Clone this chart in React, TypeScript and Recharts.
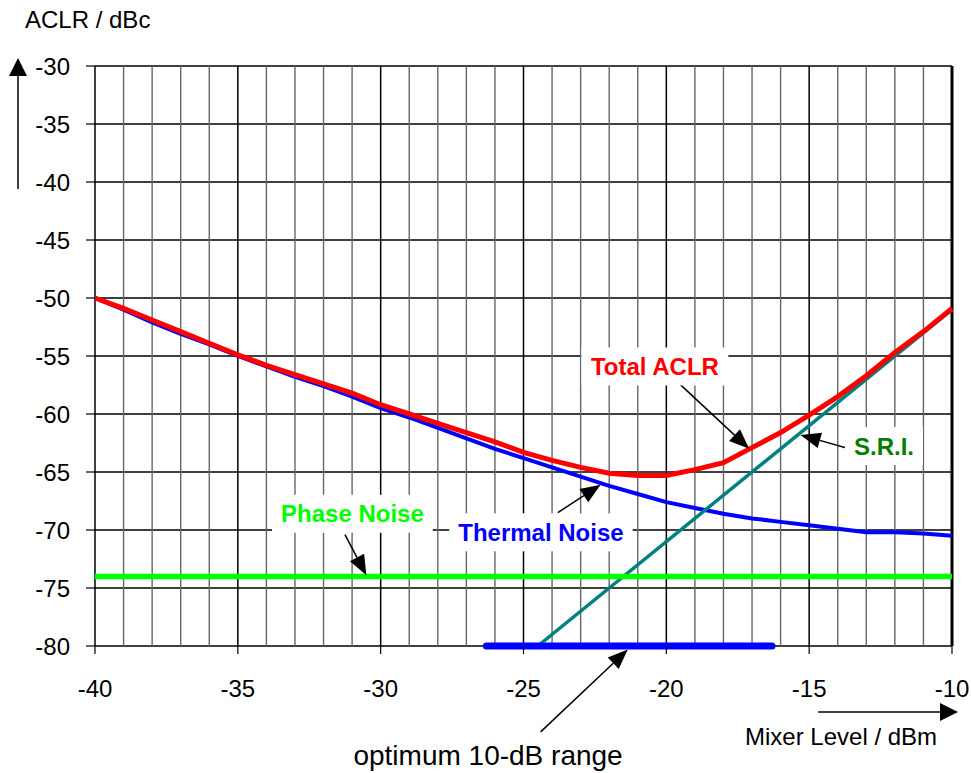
import React from 'react';
import { LineChart, Line, XAxis, YAxis, CartesianGrid, ReferenceLine, ReferenceDot } from 'recharts';

const mixerLevels = [-40, -39, -38, -37, -36, -35, -34, -33, -32, -31, -30, -29, -28, -27, -26, -25, -24, -23, -22, -21, -20, -19, -18, -17, -16, -15, -14, -13, -12, -11, -10];
const thermalNoise = [-50.0, -51.0, -52.1, -53.1, -54.0, -55.0, -55.9, -56.8, -57.6, -58.5, -59.5, -60.3, -61.2, -62.1, -63.0, -63.8, -64.6, -65.4, -66.2, -66.9, -67.6, -68.1, -68.6, -69.0, -69.3, -69.6, -69.9, -70.2, -70.2, -70.3, -70.5];
const totalAclr = [-50.0, -50.9, -51.9, -52.9, -53.9, -54.9, -55.8, -56.6, -57.4, -58.2, -59.2, -60.0, -60.8, -61.6, -62.4, -63.3, -64.0, -64.6, -65.1, -65.3, -65.3, -64.8, -64.2, -62.9, -61.6, -60.1, -58.5, -56.7, -54.7, -52.9, -50.9];
const sriLevels = [-24.5, -10];
const sriValues = [-80, -51];
const phaseNoiseLevels = [-40, -10];
const phaseNoiseValues = [-74, -74];
const optimumLevels = [-26.3, -16.3];
const optimumValues = [-80, -80];

const xTicks = [-40, -35, -30, -25, -20, -15, -10];
const yTicks = [-80, -75, -70, -65, -60, -55, -50, -45, -40, -35, -30];

// annotation arrows: tail -> head, in data units
const arrows = [
  { id: 'total', from: { x: -19.8, y: -56.8 }, to: { x: -17.1, y: -63.0 } },
  { id: 'thermal', from: { x: -23.8, y: -68.5 }, to: { x: -22.3, y: -66.1 } },
  { id: 'sri', from: { x: -13.6, y: -63.0 }, to: { x: -15.3, y: -61.8 } },
  { id: 'phase', from: { x: -31.25, y: -70.4 }, to: { x: -30.5, y: -73.9 } },
  { id: 'optimum', from: { x: -24.4, y: -87.4 }, to: { x: -21.35, y: -80.3 } },
];

const labels = [
  { id: 'total', text: 'Total ACLR', x: -20.4, y: -55.9 },
  { id: 'thermal', text: 'Thermal Noise', x: -24.39, y: -70.2 },
  { id: 'phase', text: 'Phase Noise', x: -30.99, y: -68.6 },
  { id: 'sri', text: 'S.R.I.', x: -12.38, y: -62.76 },
  { id: 'optimum', text: 'optimum 10-dB range', x: -26.24, y: -89.4 },
];

const labelStyle: Record<string, { color: string; bold: boolean; box: boolean; size: number }> = {
  total: { color: '#ff0000', bold: true, box: true, size: 24 },
  thermal: { color: '#0000ff', bold: true, box: true, size: 24 },
  phase: { color: '#00ff00', bold: true, box: true, size: 24 },
  sri: { color: '#008000', bold: true, box: true, size: 24 },
  optimum: { color: '#000000', bold: false, box: false, size: 28 },
};

const FONT = 'Arial, "Liberation Sans", sans-serif';

const table = mixerLevels.map((x, i) => ({ x, thermal: thermalNoise[i], total: totalAclr[i] }));
const sriData = sriLevels.map((x, i) => ({ x, y: sriValues[i] }));
const phaseData = phaseNoiseLevels.map((x, i) => ({ x, y: phaseNoiseValues[i] }));
const optimumData = optimumLevels.map((x, i) => ({ x, y: optimumValues[i] }));

let measureCtx: CanvasRenderingContext2D | null = null;
function textWidth(text: string, bold: boolean, size: number) {
  if (!measureCtx && typeof document !== 'undefined') {
    measureCtx = document.createElement('canvas').getContext('2d');
  }
  if (!measureCtx) return text.length * size * 0.55;
  measureCtx.font = `${bold ? 'bold ' : ''}${size}px ${FONT}`;
  return measureCtx.measureText(text).width;
}

const ArrowShape = (props: any) => {
  const { x1, y1, x2, y2 } = props;
  const dx = x2 - x1;
  const dy = y2 - y1;
  const len = Math.hypot(dx, dy) || 1;
  const ux = dx / len;
  const uy = dy / len;
  const hl = 20;
  const hw = 8;
  const bx = x2 - ux * hl;
  const by = y2 - uy * hl;
  const pts = `${x2},${y2} ${bx - uy * hw},${by + ux * hw} ${bx + uy * hw},${by - ux * hw}`;
  return (
    <g>
      <line x1={x1} y1={y1} x2={bx} y2={by} stroke="#000" strokeWidth={1.5} />
      <polygon points={pts} fill="#000" />
    </g>
  );
};

const makeLabel = (id: string, text: string) => (props: any) => {
  const { cx, cy } = props;
  const st = labelStyle[id];
  const w = textWidth(text, st.bold, st.size);
  return (
    <g>
      {st.box && <rect x={cx - w / 2 - 9} y={cy - 19} width={w + 18} height={38} fill="#fff" />}
      <text x={cx} y={cy + st.size * 0.36} textAnchor="middle" fill={st.color} fontWeight={st.bold ? 'bold' : 'normal'} fontSize={st.size} fontFamily={FONT}>
        {text}
      </text>
    </g>
  );
};

const gridLine = (p: any) => {
  const major = p.index % 5 === 0;
  const last = p.index === mixerLevels.length - 1;
  return (
    <line
      key={p.key}
      x1={p.x1}
      y1={p.y1}
      x2={p.x2}
      y2={p.y2}
      stroke={major ? '#000' : '#666'}
      strokeWidth={last ? 3 : major ? 1.5 : 1.4}
    />
  );
};

export default function App() {
  const tickStyle = { fill: '#000', fontSize: 24, fontFamily: FONT };
  return (
    <div style={{ position: 'absolute', left: 0, top: 0, width: 971, height: 773, background: '#fff', fontFamily: FONT }}>
      <LineChart width={971} height={773} data={table} margin={{ top: 66, right: 19, bottom: 67, left: 0 }}>
        <CartesianGrid verticalValues={mixerLevels} vertical={gridLine} stroke="#000" strokeWidth={1.5} />
        <XAxis
          dataKey="x"
          type="number"
          domain={[-40, -10]}
          ticks={xTicks}
          interval={0}
          height={60}
          tickSize={8}
          tickMargin={26}
          tick={tickStyle}
          axisLine={false}
          tickLine={{ stroke: '#000', strokeWidth: 1.2 }}
        />
        <YAxis
          type="number"
          domain={[-80, -30]}
          ticks={yTicks}
          interval={0}
          width={95}
          tickSize={9}
          tickMargin={16}
          tick={tickStyle}
          axisLine={false}
          tickLine={{ stroke: '#000', strokeWidth: 1.2 }}
        />
        <Line data={table} dataKey="thermal" type="linear" stroke="#0000ff" strokeWidth={4} dot={false} isAnimationActive={false} />
        <Line data={sriData} dataKey="y" type="linear" stroke="#008080" strokeWidth={3.5} dot={false} isAnimationActive={false} />
        <Line data={table} dataKey="total" type="linear" stroke="#ff0000" strokeWidth={5} dot={false} isAnimationActive={false} />
        <Line data={phaseData} dataKey="y" type="linear" stroke="#00ff00" strokeWidth={5.5} dot={false} isAnimationActive={false} />
        <Line data={optimumData} dataKey="y" type="linear" stroke="#0000ff" strokeWidth={7} strokeLinecap="round" dot={false} isAnimationActive={false} />
        {arrows.map((a) => (
          <ReferenceLine key={`arrow-${a.id}`} segment={[a.from, a.to]} ifOverflow="visible" shape={ArrowShape} />
        ))}
        {labels.map((l) => (
          <ReferenceDot key={`label-${l.id}`} x={l.x} y={l.y} r={0} ifOverflow="visible" shape={makeLabel(l.id, l.text)} />
        ))}
      </LineChart>
      <svg width={971} height={773} style={{ position: 'absolute', left: 0, top: 0, pointerEvents: 'none' }}>
        <text x={25} y={28} fontSize={24} fontFamily={FONT} fill="#000">ACLR / dBc</text>
        <line x1={18} y1={189} x2={18} y2={74} stroke="#000" strokeWidth={1.5} />
        <polygon points="18,58 9,76 27,76" fill="#000" />
        <line x1={818} y1={712} x2={942} y2={712} stroke="#000" strokeWidth={1.5} />
        <polygon points="958,712 940,703 940,721" fill="#000" />
        <text x={745} y={745} fontSize={24} fontFamily={FONT} fill="#000">Mixer Level / dBm</text>
      </svg>
    </div>
  );
}
